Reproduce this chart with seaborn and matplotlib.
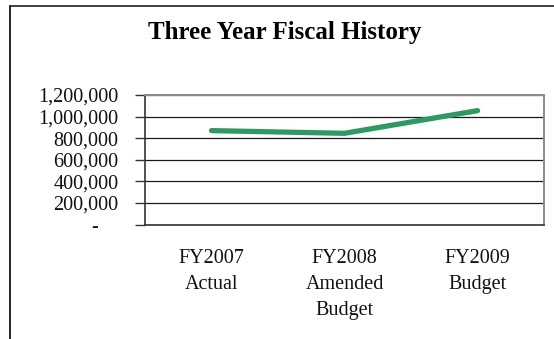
import matplotlib
matplotlib.use("Agg")
import matplotlib.pyplot as plt
from matplotlib.lines import Line2D
from matplotlib.ticker import FixedLocator, FuncFormatter
import seaborn as sns
import pandas as pd

categories = ["FY2007\nActual", "FY2008\nAmended\nBudget", "FY2009\nBudget"]
values = [870000, 845000, 1055000]
y_ticks = [0, 200000, 400000, 600000, 800000, 1000000, 1200000]
title = "Three Year Fiscal History"

sns.set_theme(style="white")
plt.rcParams["font.family"] = ["Liberation Serif", "DejaVu Serif"]

df = pd.DataFrame({"category": categories, "value": values})

fig = plt.figure(figsize=(5.54, 3.39), dpi=100)
ax = fig.add_axes([145 / 554, 1 - 224.5 / 339, (544 - 145) / 554, (224.5 - 95) / 339])

sns.lineplot(data=df, x="category", y="value", ax=ax, color="#2E9A62",
             linewidth=3.8, solid_capstyle="round", sort=False)

ax.set_xlim(-0.5, 2.5)
ax.set_ylim(0, 1200000)
ax.set_xlabel("")
ax.set_ylabel("")

ax.yaxis.set_major_locator(FixedLocator(y_ticks))
ax.yaxis.set_major_formatter(FuncFormatter(lambda v, p: "-    " if v == 0 else f"{int(v):,}"))
ax.grid(axis="y", color="#1a1a1a", linewidth=0.9)
ax.grid(axis="x", visible=False)

ax.set_xticks([0, 1, 2])
ax.set_xticklabels(categories, linespacing=1.5)
ax.set_xticks([-0.5, 0.5, 1.5, 2.5], minor=True)
ax.tick_params(axis="x", which="major", length=0, pad=17.5, labelsize=14.5, colors="#111111")
ax.tick_params(axis="x", which="minor", length=5, width=1, color="#333333", direction="out")
ax.tick_params(axis="y", which="major", length=7, width=1, color="#333333", direction="out",
               pad=12, labelsize=14.5, labelcolor="#111111", left=True)

for s in ["top", "right"]:
    ax.spines[s].set_color("#8c8c8c")
    ax.spines[s].set_linewidth(1.4)
for s in ["left", "bottom"]:
    ax.spines[s].set_color("#333333")
    ax.spines[s].set_linewidth(1.2)
    ax.spines[s].set_visible(True)

fig.text(285 / 554, 1 - 33 / 339, title, ha="center", va="center",
         fontsize=18, fontweight="bold", color="#000000")

fig.add_artist(Line2D([9.5 / 554, 1.0], [1 - 5.5 / 339, 1 - 5.5 / 339],
                      transform=fig.transFigure, color="#333333", linewidth=1.3))
fig.add_artist(Line2D([9.5 / 554, 9.5 / 554], [1 - 5.5 / 339, 0.0],
                      transform=fig.transFigure, color="#111111", linewidth=1.3))

fig.savefig("out.png", dpi=100)
